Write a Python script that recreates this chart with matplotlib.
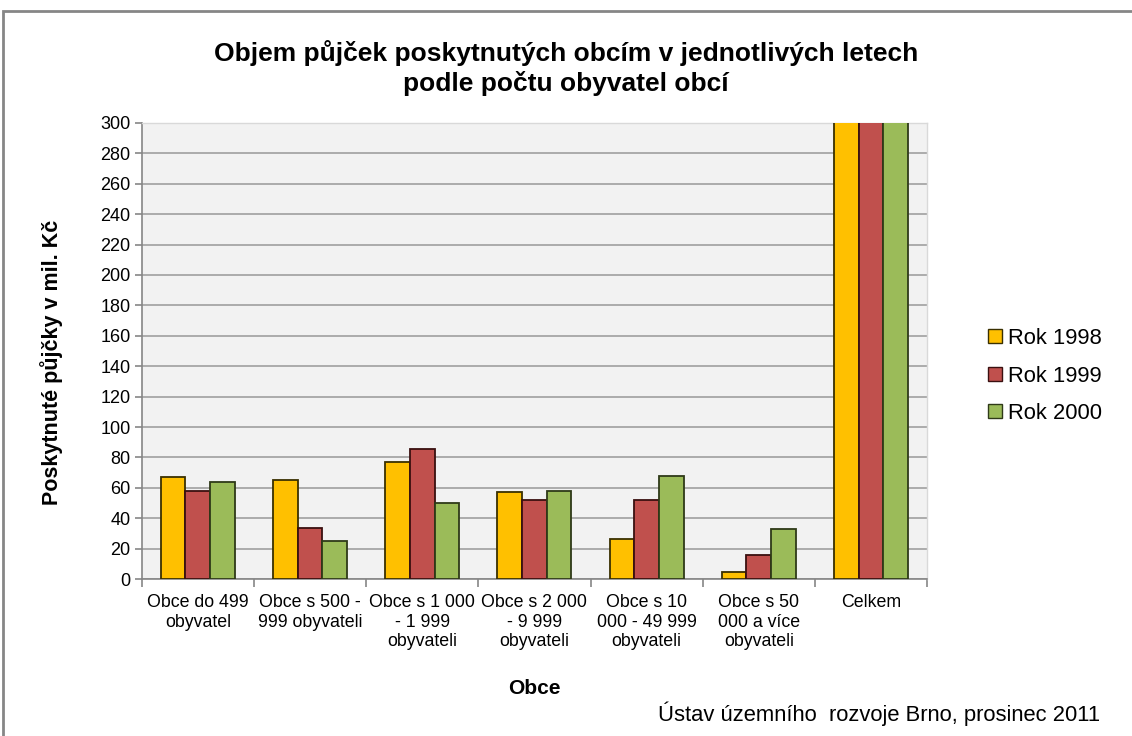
import numpy as np
import matplotlib
matplotlib.use("Agg")
import matplotlib.pyplot as plt
from matplotlib.patches import Rectangle

plt.rcParams['font.family'] = ['Liberation Sans', 'DejaVu Sans']

# data (mil. Kč)
categories = [
    "Obce do 499\nobyvatel",
    "Obce s 500 -\n999 obyvateli",
    "Obce s 1 000\n- 1 999\nobyvateli",
    "Obce s 2 000\n- 9 999\nobyvateli",
    "Obce s 10\n000 - 49 999\nobyvateli",
    "Obce s 50\n000 a více\nobyvateli",
    "Celkem",
]
rok1998 = [67, 65, 77, 57, 26, 4.5, 310]
rok1999 = [58, 33.5, 85.5, 52, 52, 16, 310]
rok2000 = [63.5, 25, 50, 58, 67.5, 33, 310]
series_names = ["Rok 1998", "Rok 1999", "Rok 2000"]
colors = ["#FFC000", "#C0504D", "#9BBB59"]
edges = ["#3a3000", "#3a1010", "#2f3a18"]

fig = plt.figure(figsize=(11.32, 7.36), dpi=100)
ax = fig.add_axes([0.1252, 0.2133, 0.6938, 0.6196])

# outer chart border
fig.patches.append(Rectangle((3 / 1132, -0.1), 1.2, (736 - 11) / 736 + 0.1,
                             transform=fig.transFigure, fill=False,
                             edgecolor="#868686", linewidth=2.0, zorder=0))

x = np.arange(len(categories))
w = 0.22
for i, (vals, name) in enumerate(zip([rok1998, rok1999, rok2000], series_names)):
    ax.bar(x + (i - 1) * w, vals, width=w, color=colors[i], edgecolor=edges[i],
           linewidth=1.3, label=name, zorder=3)

ax.set_facecolor("#F2F2F2")
ax.set_xlim(-0.5, len(categories) - 0.5)
ax.set_ylim(0, 300)
ax.set_yticks(np.arange(0, 301, 20))
ax.grid(axis="y", color="#A6A6A6", linewidth=1.3, zorder=1)
ax.set_axisbelow(True)

for s in ["top", "right"]:
    ax.spines[s].set_color("#D9D9D9")
    ax.spines[s].set_linewidth(1.0)
for s in ["left", "bottom"]:
    ax.spines[s].set_color("#868686")
    ax.spines[s].set_linewidth(1.2)

ax.set_xticks(x)
ax.set_xticklabels(categories, fontsize=12.8, linespacing=1.2)
ax.tick_params(axis="x", which="major", length=0, pad=11)
ax.set_xticks(np.arange(-0.5, len(categories), 1), minor=True)
ax.tick_params(axis="x", which="minor", length=6, color="#868686", width=1.2)
ax.tick_params(axis="y", length=5, color="#868686", width=1.2, labelsize=13, pad=3)

ax.set_ylabel("Poskytnuté půjčky v mil. Kč", fontsize=15.5, fontweight="bold")
ax.yaxis.set_label_coords(-0.1, 0.476)
fig.text(534 / 1132, 1 - 688 / 736, "Obce", fontsize=15, fontweight="bold",
         ha="center", va="center")

fig.text(0.5, 1 - 68 / 736,
         "Objem půjček poskytnutých obcím v jednotlivých letech\npodle počtu obyvatel obcí",
         fontsize=19, fontweight="bold", ha="center", va="center", linespacing=1.2)

fig.text(1100 / 1132, 1 - 714 / 736, "Ústav územního  rozvoje Brno, prosinec 2011",
         fontsize=15.8, ha="right", va="center")

leg = ax.legend(loc="center left", bbox_to_anchor=(1.053, 0.445), frameon=False,
                fontsize=15.8, handlelength=0.6, handleheight=0.6,
                handletextpad=0.3, labelspacing=0.75)
for h in leg.legend_handles:
    h.set_linewidth(1.0)

fig.savefig("out.png", dpi=100, facecolor="white")
